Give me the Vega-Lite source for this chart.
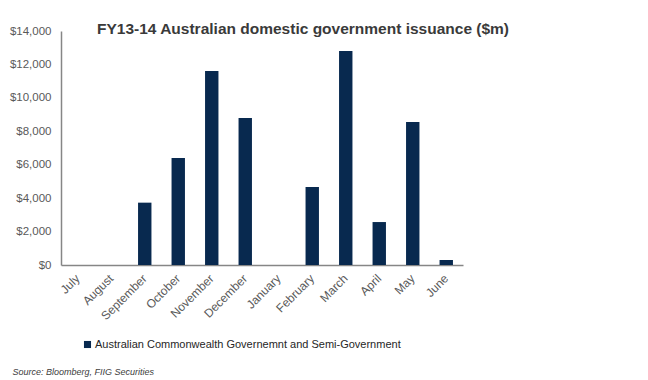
{
  "$schema": "https://vega.github.io/schema/vega-lite/v6.json",
  "autosize": "none",
  "width": 402,
  "height": 234,
  "padding": {"left": 61, "top": 31, "right": 185, "bottom": 115},
  "background": "white",
  "title": {
    "text": "FY13-14 Australian domestic  government issuance ($m)",
    "font": "Liberation Sans",
    "fontSize": 15.5,
    "fontWeight": "bold",
    "color": "#3a3a3a",
    "anchor": "start",
    "frame": "group",
    "offset": 0,
    "baseline": "alphabetic",
    "dx": 36,
    "dy": 24
  },
  "data": {
    "values": [
      {"month": "July", "value": 0, "series": "Australian Commonwealth Governemnt and Semi-Government"},
      {"month": "August", "value": 0, "series": "Australian Commonwealth Governemnt and Semi-Government"},
      {"month": "September", "value": 3730, "series": "Australian Commonwealth Governemnt and Semi-Government"},
      {"month": "October", "value": 6400, "series": "Australian Commonwealth Governemnt and Semi-Government"},
      {"month": "November", "value": 11600, "series": "Australian Commonwealth Governemnt and Semi-Government"},
      {"month": "December", "value": 8800, "series": "Australian Commonwealth Governemnt and Semi-Government"},
      {"month": "January", "value": 0, "series": "Australian Commonwealth Governemnt and Semi-Government"},
      {"month": "February", "value": 4670, "series": "Australian Commonwealth Governemnt and Semi-Government"},
      {"month": "March", "value": 12800, "series": "Australian Commonwealth Governemnt and Semi-Government"},
      {"month": "April", "value": 2570, "series": "Australian Commonwealth Governemnt and Semi-Government"},
      {"month": "May", "value": 8560, "series": "Australian Commonwealth Governemnt and Semi-Government"},
      {"month": "June", "value": 300, "series": "Australian Commonwealth Governemnt and Semi-Government"}
    ]
  },
  "mark": {"type": "bar"},
  "encoding": {
    "x": {
      "field": "month",
      "type": "nominal",
      "sort": null,
      "scale": {"paddingInner": 0.6, "paddingOuter": 0.3},
      "axis": {
        "title": "Source: Bloomberg,  FIIG Securities",
        "titleFont": "Liberation Sans",
        "titleFontSize": 9,
        "titleFontStyle": "italic",
        "titleFontWeight": "normal",
        "titleColor": "#404040",
        "titleAnchor": "start",
        "titleAlign": "left",
        "titleBaseline": "alphabetic",
        "titleX": -49,
        "titleY": 109,
        "labelAngle": -45,
        "labelAlign": "right",
        "labelBaseline": "middle",
        "labelFont": "Liberation Sans",
        "labelFontSize": 12,
        "labelColor": "#595959",
        "labelPadding": 11,
        "ticks": false,
        "domainColor": "#868686",
        "domainWidth": 1.5,
        "grid": false
      }
    },
    "y": {
      "field": "value",
      "type": "quantitative",
      "scale": {"domain": [0, 14000], "nice": false},
      "axis": {
        "title": null,
        "values": [0, 2000, 4000, 6000, 8000, 10000, 12000, 14000],
        "format": "$,.0f",
        "labelFont": "Liberation Sans",
        "labelFontSize": 11.5,
        "labelColor": "#595959",
        "labelPadding": 10,
        "ticks": false,
        "domainColor": "#868686",
        "domainWidth": 1.5,
        "grid": false
      }
    },
    "color": {
      "field": "series",
      "type": "nominal",
      "scale": {"range": ["#08294F"]},
      "legend": {
        "title": null,
        "orient": "none",
        "legendX": 21,
        "legendY": 308,
        "symbolType": "square",
        "symbolSize": 50,
        "symbolOpacity": 1,
        "labelFont": "Liberation Sans",
        "labelFontSize": 11,
        "labelColor": "#262626",
        "labelOffset": 2,
        "labelLimit": 0,
        "padding": 0
      }
    }
  },
  "config": {"view": {"stroke": null}}
}
